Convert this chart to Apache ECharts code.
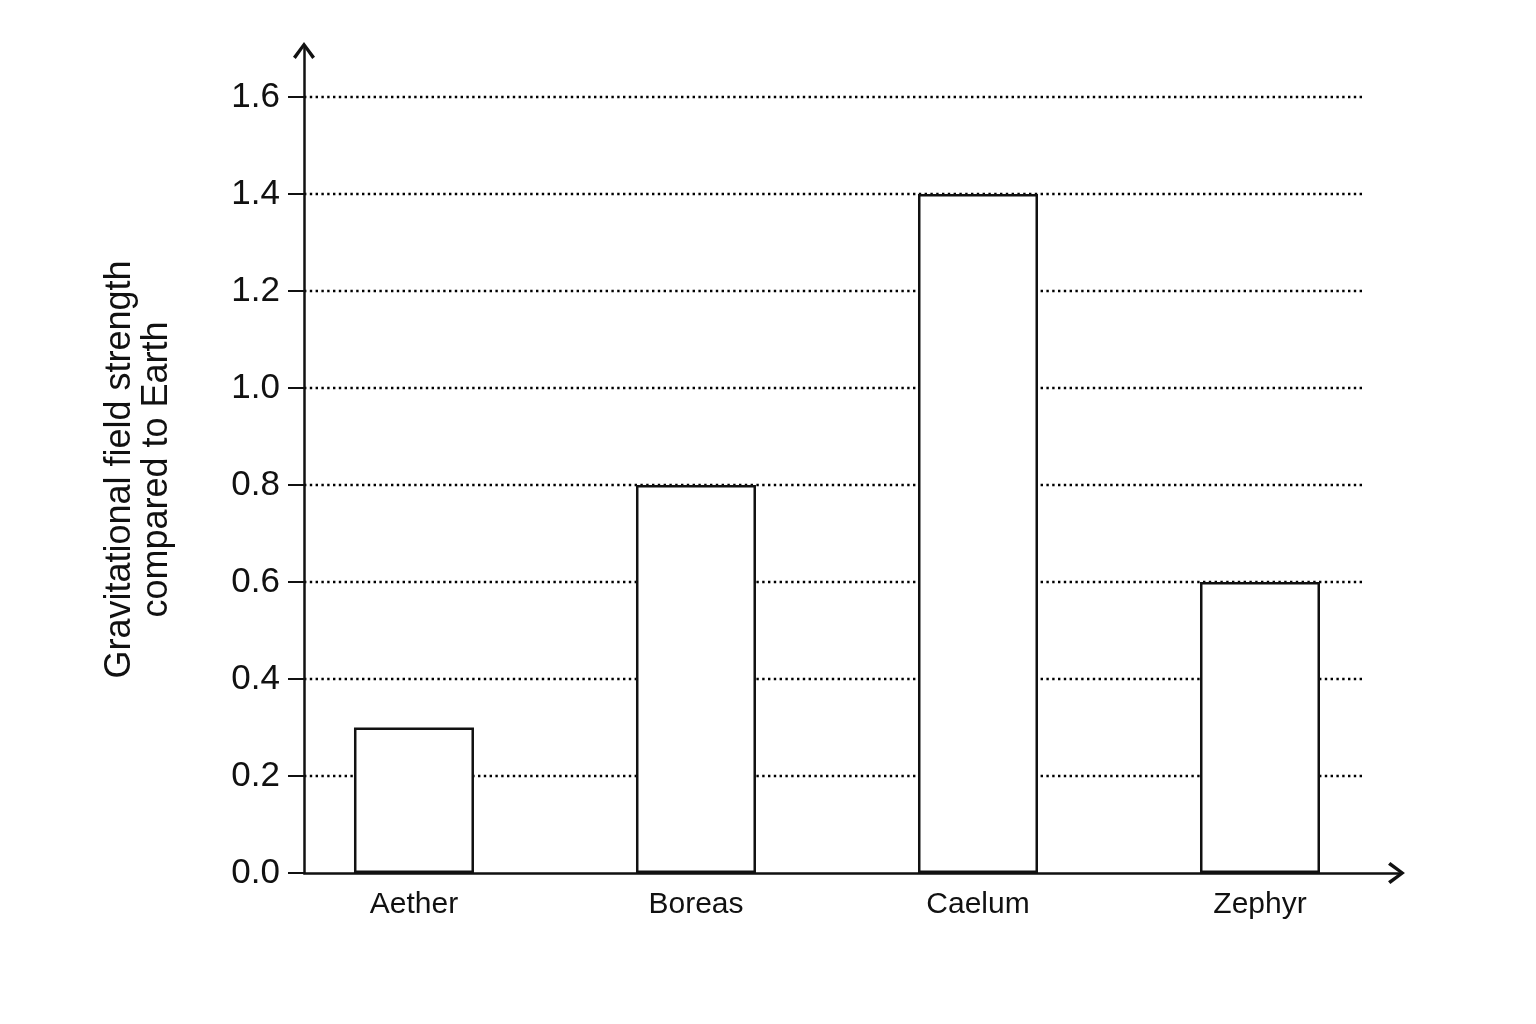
<!DOCTYPE html>
<html>
<head>
<meta charset="utf-8">
<script src="https://cdn.jsdelivr.net/npm/echarts@6/dist/echarts.min.js"></script>
<style>html,body{margin:0;padding:0;background:#fff}#c{width:1536px;height:1024px}</style>
</head>
<body>
<div id="c"></div>
<script>
const categories = ['Aether', 'Boreas', 'Caelum', 'Zephyr'];
const values = [0.3, 0.8, 1.4, 0.6];
const yTicks = [0, 0.2, 0.4, 0.6, 0.8, 1.0, 1.2, 1.4, 1.6];
const yAxisTitle = 'Gravitational field strength\ncompared to Earth';

const font = "'Liberation Sans', Arial, Helvetica, sans-serif";
const ink = '#111';
const chevron = 'path://M0,12.6 L9.5,0 L19,12.6 L16.6,14.6 L9.5,4.6 L2.4,14.6 Z';

const chart = echarts.init(document.getElementById('c'), null, {renderer: 'canvas'});
chart.setOption({
  backgroundColor: '#fff',
  animation: false,
  grid: [
    {left: 304, top: 46, width: 1097, height: 827, containLabel: false},
    {left: 304, top: 97, width: 1059, height: 776, containLabel: false}
  ],
  xAxis: [
    {
      gridIndex: 0, type: 'value', min: -0.39, max: 3.5,
      axisLine: {show: true, onZero: false, lineStyle: {color: ink, width: 2.5},
        symbol: ['none', chevron], symbolSize: [22, 17], symbolOffset: [0, -4.5]},
      axisTick: {show: false},
      splitLine: {show: false},
      axisLabel: {
        customValues: categories.map((c, i) => i),
        formatter: v => categories[Math.round(v)] || '',
        color: ink, fontFamily: font, fontSize: 30, margin: 17
      }
    },
    {gridIndex: 1, type: 'value', min: 0, max: 1, show: false}
  ],
  yAxis: [
    {
      gridIndex: 0, type: 'value', min: 0, max: 1.705,
      axisLine: {show: true, onZero: false, lineStyle: {color: ink, width: 2.5},
        symbol: ['none', chevron], symbolSize: [22, 17], symbolOffset: [0, -4.5]},
      axisTick: {show: true, customValues: yTicks, length: 16, lineStyle: {color: ink, width: 2}},
      axisLabel: {
        customValues: yTicks,
        formatter: v => v.toFixed(1),
        color: ink, fontFamily: font, fontSize: 35, margin: 24
      },
      splitLine: {show: false},
      name: yAxisTitle,
      nameLocation: 'middle',
      nameRotate: 90,
      nameGap: 128,
      nameTextStyle: {color: ink, fontFamily: font, fontSize: 36, lineHeight: 37, align: 'center', padding: [0, 20, 0, 0]}
    },
    {
      gridIndex: 1, type: 'value', min: 0, max: 1.6, interval: 0.2,
      axisLine: {show: false}, axisTick: {show: false}, axisLabel: {show: false},
      splitLine: {show: true, showMinLine: false, lineStyle: {color: '#000', width: 2.4, type: [2.4, 3.4]}}
    }
  ],
  series: [
    {
      type: 'bar', xAxisIndex: 0, yAxisIndex: 0,
      data: categories.map((c, i) => [i, values[i]]),
      barWidth: 120,
      itemStyle: {color: '#fff', borderColor: ink, borderWidth: 2.5},
      z: 5
    }
  ]
});
</script>
</body>
</html>
